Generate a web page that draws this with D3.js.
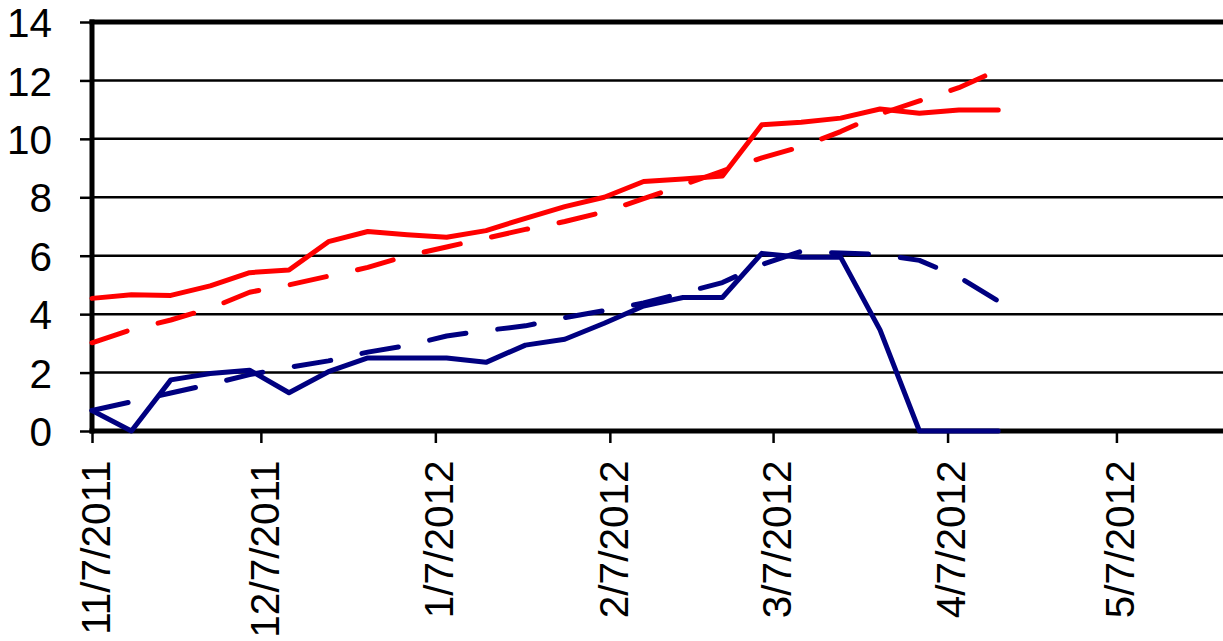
<!DOCTYPE html>
<html>
<head>
<meta charset="utf-8">
<script src="https://cdn.jsdelivr.net/npm/d3@7"></script>
<style>
  html, body { margin: 0; padding: 0; background: #fff; }
  svg { display: block; }
  text { font-family: "Liberation Sans", Arial, sans-serif; fill: #000; }
</style>
</head>
<body>
<svg id="chart" width="1223" height="641"></svg>
<script>
// ---- data ----
const weeks = ["11/7/2011","11/14/2011","11/21/2011","11/28/2011","12/5/2011","12/12/2011","12/19/2011","12/26/2011",
  "1/2/2012","1/9/2012","1/16/2012","1/23/2012","1/30/2012","2/6/2012","2/13/2012","2/20/2012","2/27/2012",
  "3/5/2012","3/12/2012","3/19/2012","3/26/2012","4/2/2012","4/9/2012","4/16/2012"];
const redActual = [4.54, 4.66, 4.64, 4.97, 5.42, 5.51, 6.48, 6.83, 6.72, 6.63, 6.86, 7.28, 7.68, 8.0, 8.54, 8.63, 8.73,
  10.48, 10.57, 10.71, 11.02, 10.88, 10.99, 10.99];
const redTrend = [3.02, 3.47, 3.8, 4.2, 4.75, 5.0, 5.3, 5.6, 6.0, 6.3, 6.6, 6.9, 7.17, 7.5, 7.95, 8.42, 8.9,
  9.35, 9.73, 10.25, 10.85, 11.3, 11.75, 12.36];
const blueActual = [0.7, 0, 1.75, 1.97, 2.08, 1.31, 2.03, 2.5, 2.5, 2.5, 2.35, 2.94, 3.14, 3.69, 4.28, 4.57, 4.57,
  6.08, 5.95, 5.95, 3.46, 0, 0, 0];
const blueTrend = [0.7, 1.0, 1.3, 1.6, 1.93, 2.18, 2.4, 2.7, 2.93, 3.25, 3.44, 3.6, 3.88, 4.12, 4.38, 4.73, 5.08,
  5.7, 6.15, 6.09, 6.04, 5.84, 5.27, 4.45];
const xTickLabels = ["11/7/2011","12/7/2011","1/7/2012","2/7/2012","3/7/2012","4/7/2012","5/7/2012"];
const yTicks = [0, 2, 4, 6, 8, 10, 12, 14];
const xStart = "11/7/2011", xEnd = "5/27/2012";

// ---- helpers ----
function parseDate(s) {
  const [m, d, yr] = s.split("/").map(Number);
  return new Date(Date.UTC(yr, m - 1, d));
}

const svg = d3.select("#chart");
const plotLeft = 92, plotTop = 22, plotBottom = 431, plotRight = 1229;
const fontSize = "40.5px";

const x = d3.scaleUtc().domain([parseDate(xStart), parseDate(xEnd)]).range([plotLeft, plotRight]);
const y = d3.scaleLinear().domain([0, 14]).range([plotBottom, plotTop]);

// gridlines
svg.append("g").selectAll("line").data(yTicks.filter(v => v > 0 && v < 14)).join("line")
  .attr("x1", plotLeft).attr("x2", 1223)
  .attr("y1", d => y(d)).attr("y2", d => y(d))
  .attr("stroke", "#000").attr("stroke-width", 2.5);

// top border
svg.append("line").attr("x1", plotLeft - 2.5).attr("x2", 1223).attr("y1", y(14)).attr("y2", y(14))
  .attr("stroke", "#000").attr("stroke-width", 5);

// y axis
const yAxis = d3.axisLeft(y).tickValues(yTicks).tickSize(12).tickPadding(28).tickFormat(d3.format("d"));
const gy = svg.append("g").attr("transform", `translate(${plotLeft},0)`).call(yAxis);
gy.select(".domain").remove();
gy.selectAll(".tick line").attr("stroke", "#000").attr("stroke-width", 2.5);
gy.selectAll(".tick text").style("font-size", fontSize).style("font-family", "Liberation Sans, Arial, sans-serif")
  .attr("dy", "0.36em");
svg.append("line").attr("x1", plotLeft).attr("x2", plotLeft).attr("y1", plotTop - 2.5).attr("y2", plotBottom + 2.5)
  .attr("stroke", "#000").attr("stroke-width", 5);

// x axis
const xAxis = d3.axisBottom(x).tickValues(xTickLabels.map(parseDate)).tickSize(12).tickFormat((d, i) => xTickLabels[i]);
const gx = svg.append("g").attr("transform", `translate(0,${plotBottom})`).call(xAxis);
gx.select(".domain").remove();
gx.selectAll(".tick line").attr("stroke", "#000").attr("stroke-width", 2.5);
gx.selectAll(".tick text")
  .style("font-size", fontSize).style("font-family", "Liberation Sans, Arial, sans-serif")
  .attr("text-anchor", "end")
  .attr("transform", "rotate(-90)")
  .attr("x", -29.5).attr("y", 0).attr("dy", "0.43em");
svg.append("line").attr("x1", plotLeft - 2.5).attr("x2", 1223).attr("y1", plotBottom).attr("y2", plotBottom)
  .attr("stroke", "#000").attr("stroke-width", 5);

// lines
const dates = weeks.map(parseDate);
const line = d3.line().x((d, i) => x(dates[i])).y(d => y(d));

function drawSeries(values, color, dashed) {
  const p = svg.append("path").datum(values)
    .attr("d", line)
    .attr("fill", "none")
    .attr("stroke", color)
    .attr("stroke-width", 5)
    .attr("stroke-linejoin", "round")
    .attr("stroke-linecap", "round");
  if (dashed) p.attr("stroke-dasharray", "37,32");
}
drawSeries(blueTrend, "#000080", true);
drawSeries(blueActual, "#000080", false);
drawSeries(redTrend, "#ff0000", true);
drawSeries(redActual, "#ff0000", false);
</script>
</body>
</html>
